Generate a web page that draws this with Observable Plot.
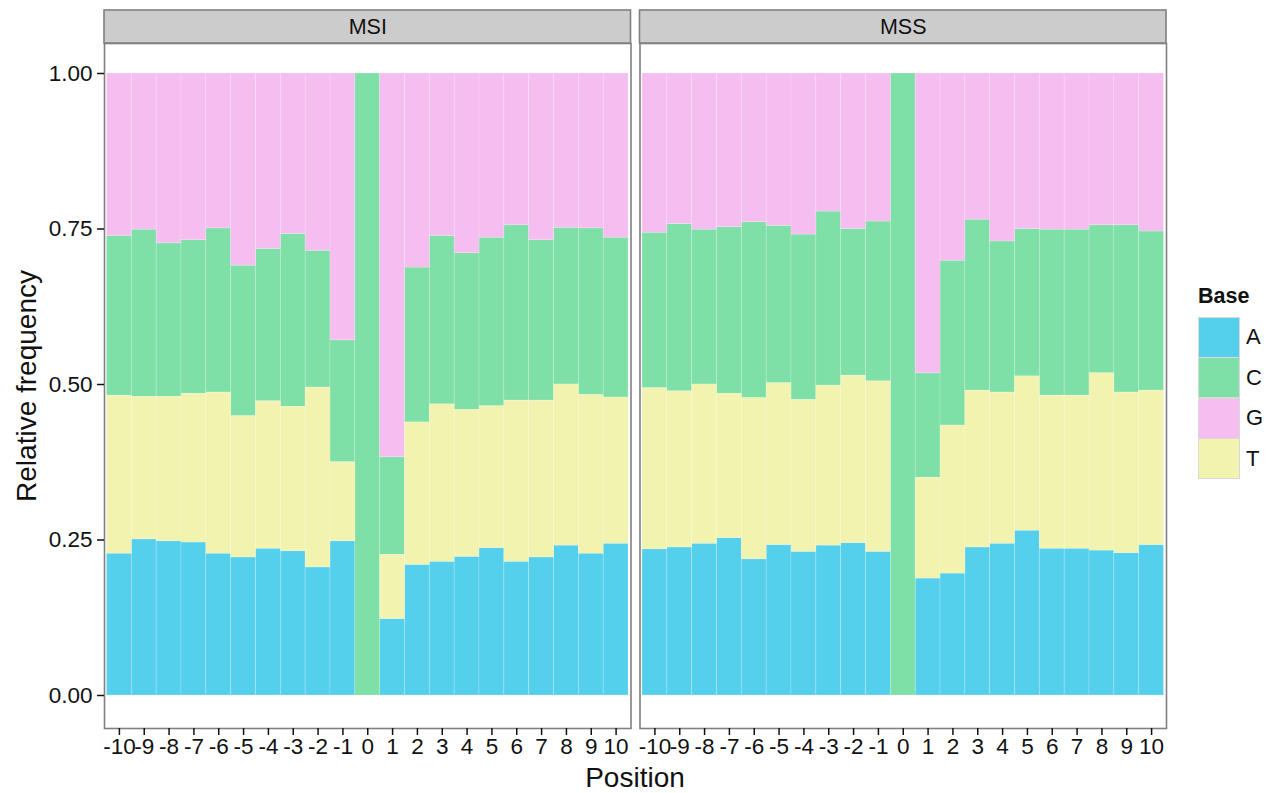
<!DOCTYPE html>
<html><head><meta charset="utf-8">
<script src="https://cdn.jsdelivr.net/npm/d3@7"></script>
<script src="https://cdn.jsdelivr.net/npm/@observablehq/plot@0.6"></script>
<style>
body{margin:0;background:#fff;font-family:"Liberation Sans",Arial,Helvetica,sans-serif;}
#wrap{position:relative;width:1271px;height:793px;overflow:hidden;}
#chart{position:absolute;left:0;top:0;}
.ttl{position:absolute;color:#111;font-size:28px;white-space:nowrap;}
#ylab{left:27px;top:386px;transform:translate(-50%,-50%) rotate(-90deg);}
#xlab{left:635px;top:778px;transform:translate(-50%,-50%);}
#legend{position:absolute;left:1198px;top:284px;color:#111;}
#legend .lt{font-weight:bold;font-size:21.5px;margin-bottom:8px;}
#legend .row{display:flex;align-items:center;height:40.5px;}
#legend .sw{width:40px;height:39px;border:1px solid #d9d9d9;box-sizing:content-box;}
#legend .lb{font-size:22px;margin-left:6px;}
</style></head><body>
<div id="wrap"><div id="chart"></div>
<div class="ttl" id="ylab">Relative frequency</div>
<div class="ttl" id="xlab">Position</div>
<div id="legend"></div>
</div>
<script>
const positions = [-10,-9,-8,-7,-6,-5,-4,-3,-2,-1,0,1,2,3,4,5,6,7,8,9,10];
const groups = ["MSI","MSS"];
const bases = ["A","C","G","T"];
const baseColors = ["#54CFEC","#7EDFA7","#F6BDF0","#F1F3AF"];
const stackOrder = ["A","T","C","G"];

// MSI relative frequencies by position
const msiA = [0.228,0.251,0.248,0.246,0.228,0.222,0.236,0.232,0.206,0.248,0,0.123,0.210,0.215,0.223,0.237,0.215,0.222,0.241,0.228,0.244];
const msiT = [0.254,0.229,0.232,0.239,0.259,0.227,0.237,0.232,0.289,0.127,0,0.103,0.229,0.253,0.236,0.228,0.259,0.252,0.259,0.255,0.235];
const msiC = [0.257,0.269,0.247,0.247,0.264,0.242,0.245,0.278,0.220,0.196,1,0.157,0.249,0.271,0.252,0.271,0.282,0.258,0.252,0.268,0.257];
const msiG = [0.261,0.251,0.273,0.268,0.249,0.309,0.282,0.258,0.285,0.429,0,0.617,0.312,0.261,0.289,0.264,0.244,0.268,0.248,0.249,0.264];
// MSS relative frequencies by position
const mssA = [0.235,0.238,0.244,0.253,0.219,0.242,0.231,0.241,0.245,0.231,0,0.188,0.196,0.238,0.244,0.265,0.236,0.236,0.233,0.229,0.242];
const mssT = [0.259,0.251,0.256,0.232,0.259,0.260,0.244,0.257,0.269,0.274,0,0.162,0.238,0.252,0.243,0.248,0.246,0.246,0.285,0.258,0.248];
const mssC = [0.250,0.269,0.249,0.268,0.283,0.253,0.266,0.280,0.236,0.257,1,0.168,0.265,0.275,0.243,0.237,0.267,0.267,0.238,0.269,0.256];
const mssG = [0.256,0.242,0.251,0.247,0.239,0.245,0.259,0.222,0.250,0.238,0,0.482,0.301,0.235,0.270,0.250,0.251,0.251,0.244,0.244,0.254];

const table = {MSI: {A: msiA, C: msiC, G: msiG, T: msiT}, MSS: {A: mssA, C: mssC, G: mssG, T: mssT}};
const data = [];
for (const g of groups) for (const b of bases) positions.forEach((p, i) => data.push({group: g, pos: p, base: b, freq: table[g][b][i]}));

const W = 1180, H = 793, mL = 104, mR = 14, mT = 43, mB = 65;
const panelH = H - mT - mB;

const chart = Plot.plot({
  width: W, height: H, marginLeft: mL, marginRight: mR, marginTop: mT, marginBottom: mB,
  style: {fontFamily: '"Liberation Sans",Arial,Helvetica,sans-serif', fontSize: "22px", color: "#111", background: "transparent", overflow: "visible"},
  fx: {domain: groups, paddingInner: 9 / 535.5, paddingOuter: 0, round: false, axis: null, label: null},
  x: {domain: positions, paddingInner: 0, paddingOuter: 0.1, round: false, axis: null},
  y: {domain: [0, 1], insetTop: 30, insetBottom: 33, axis: null},
  color: {domain: bases, range: baseColors},
  marks: [
    Plot.barY(data, {fx: "group", x: "pos", y: "freq", fill: "base", order: stackOrder, stroke: "#ffffff", strokeOpacity: 0.25, strokeWidth: 0.8}),
    Plot.frame({stroke: "#808080", strokeWidth: 1.6}),
    Plot.rect(groups, {fx: d => d, insetTop: -33, insetBottom: panelH, fill: "#cccccc", stroke: "#808080", strokeWidth: 1.6}),
    Plot.text(groups, {fx: d => d, text: d => d, frameAnchor: "top", lineAnchor: "middle", dy: -16.5, fontSize: 21.5, fill: "#111"}),
    Plot.axisY({ticks: [0, 0.25, 0.5, 0.75, 1], tickFormat: d3.format(".2f"), tickSize: 7, tickPadding: 5, label: null, fontSize: 22.5, strokeWidth: 1.5}),
    Plot.axisX({tickSize: 7, tickPadding: 3, label: null, fontSize: 22.5, strokeWidth: 1.5})
  ]
});
document.getElementById("chart").appendChild(chart);

const leg = document.getElementById("legend");
leg.innerHTML = '<div class="lt">Base</div>' + bases.map((b, i) =>
  `<div class="row"><div class="sw" style="background:${baseColors[i]}"></div><div class="lb">${b}</div></div>`).join("");
</script>
</body></html>
